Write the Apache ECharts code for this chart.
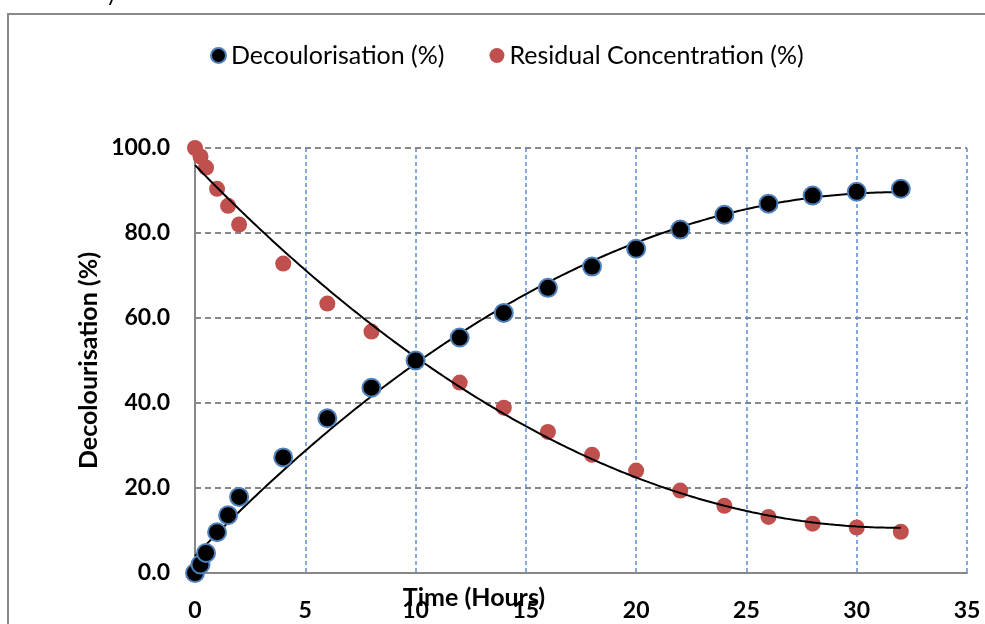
<!DOCTYPE html>
<html>
<head>
<meta charset="utf-8">
<script src="https://cdn.jsdelivr.net/npm/echarts@6/dist/echarts.min.js"></script>
<style>
  html, body { margin: 0; padding: 0; background: #fff; }
  #chart { width: 985px; height: 624px; }
</style>
</head>
<body>
<div id="chart"></div>
<script>
// Sampling times (hours)
const timeHours = [0, 0.25, 0.5, 1, 1.5, 2, 4, 6, 8, 10, 12, 14, 16, 18, 20, 22, 24, 26, 28, 30, 32];
// Decolourisation (%)
const decolourisation = [0, 2.0, 4.7, 9.6, 13.6, 17.9, 27.2, 36.4, 43.6, 50.0, 55.4, 61.2, 67.1, 72.1, 76.3, 80.8, 84.3, 86.9, 88.8, 89.7, 90.4];
// Residual concentration (%)
const residual = [100, 98.0, 95.4, 90.4, 86.4, 82.0, 72.8, 63.4, 56.8, 50.0, 44.8, 38.9, 33.2, 27.8, 24.1, 19.4, 15.8, 13.2, 11.6, 10.7, 9.7];
const xTicks = [0, 5, 10, 15, 20, 25, 30, 35];
const yTicks = [0, 20, 40, 60, 80, 100];

// 2nd order polynomial trendline (least squares), like the spreadsheet one
function polyFit2(xs, ys) {
  let s0 = 0, s1 = 0, s2 = 0, s3 = 0, s4 = 0, t0 = 0, t1 = 0, t2 = 0;
  for (let i = 0; i < xs.length; i++) {
    const x = xs[i], y = ys[i];
    s0 += 1; s1 += x; s2 += x * x; s3 += x * x * x; s4 += x * x * x * x;
    t0 += y; t1 += x * y; t2 += x * x * y;
  }
  // solve 3x3 normal equations
  const m = [[s0, s1, s2, t0], [s1, s2, s3, t1], [s2, s3, s4, t2]];
  for (let c = 0; c < 3; c++) {
    for (let r = c + 1; r < 3; r++) {
      const f = m[r][c] / m[c][c];
      for (let k = c; k < 4; k++) m[r][k] -= f * m[c][k];
    }
  }
  const coef = [0, 0, 0];
  for (let r = 2; r >= 0; r--) {
    let v = m[r][3];
    for (let k = r + 1; k < 3; k++) v -= m[r][k] * coef[k];
    coef[r] = v / m[r][r];
  }
  return x => coef[0] + coef[1] * x + coef[2] * x * x;
}

function trend(xs, ys) {
  const f = polyFit2(xs, ys);
  const out = [];
  const last = xs[xs.length - 1];
  for (let x = xs[0]; x <= last + 1e-9; x += 0.25) out.push([x, f(x)]);
  return out;
}

const pairs = (xs, ys) => xs.map((x, i) => [x, ys[i]]);

const chart = echarts.init(document.getElementById('chart'));
const fontFamily = 'Lato, "Open Sans", sans-serif';

chart.setOption({
  animation: false,
  textStyle: { fontFamily: fontFamily },
  graphic: [
    {
      type: 'rect',
      shape: { x: 8, y: 14, width: 1000, height: 700 },
      style: { fill: 'none', stroke: '#898989', lineWidth: 2 },
      silent: true
    },
    {
      type: 'text',
      left: 106,
      top: -17,
      style: { text: 'y', font: '22px Lato, sans-serif', fill: '#000' }
    }
  ],
  legend: {
    top: 38,
    left: 205,
    itemGap: 45,
    itemWidth: 15,
    itemHeight: 15,
    data: ['Decoulorisation (%)', 'Residual Concentration (%)'],
    textStyle: { fontSize: 25, color: '#000', fontFamily: fontFamily }
  },
  grid: { left: 195, right: 18, top: 148, bottom: 51, containLabel: false, outerBoundsMode: 'none' },
  xAxis: {
    type: 'value',
    min: xTicks[0],
    max: xTicks[xTicks.length - 1],
    interval: 5,
    name: 'Time (Hours)',
    nameLocation: 'middle',
    nameGap: 12,
    nameMoveOverlap: false,
    nameTextStyle: {
      fontSize: 25, fontWeight: 'bold', color: '#000', fontFamily: fontFamily,
      padding: [0, 214, 0, 0]
    },
    axisLine: { lineStyle: { color: '#878787', width: 2 } },
    axisTick: { show: false },
    axisLabel: { fontSize: 23, fontWeight: 'bold', color: '#000', margin: 26, fontFamily: fontFamily },
    splitLine: { show: true, lineStyle: { color: '#5b8ed0', type: [4, 3], width: 1.5 } }
  },
  yAxis: {
    type: 'value',
    min: yTicks[0],
    max: yTicks[yTicks.length - 1],
    interval: 20,
    name: 'Decolourisation (%)',
    nameLocation: 'middle',
    nameGap: 94,
    nameMoveOverlap: false,
    nameTextStyle: { fontSize: 25, fontWeight: 'bold', color: '#000', fontFamily: fontFamily },
    axisLine: { show: true, lineStyle: { color: '#878787', width: 2 } },
    axisTick: { show: false },
    axisLabel: {
      fontSize: 23, fontWeight: 'bold', color: '#000', margin: 25, fontFamily: fontFamily,
      formatter: v => v.toFixed(1)
    },
    splitLine: { show: true, lineStyle: { color: '#878787', type: [6, 4], width: 2 } }
  },
  series: [
    {
      name: 'Decoulorisation (%)',
      type: 'scatter',
      data: pairs(timeHours, decolourisation),
      symbolSize: 18,
      z: 4,
      itemStyle: { color: '#000', borderColor: '#4f81bd', borderWidth: 2, opacity: 1 }
    },
    {
      name: 'Residual Concentration (%)',
      type: 'scatter',
      data: pairs(timeHours, residual),
      symbolSize: 16,
      z: 2,
      itemStyle: { color: '#c0504d', opacity: 1 }
    },
    {
      name: 'trend decolourisation',
      type: 'line',
      data: trend(timeHours, decolourisation),
      showSymbol: false,
      smooth: true,
      z: 3,
      lineStyle: { color: '#000', width: 2 }
    },
    {
      name: 'trend residual',
      type: 'line',
      data: trend(timeHours, residual),
      showSymbol: false,
      smooth: true,
      z: 3,
      lineStyle: { color: '#000', width: 2 }
    }
  ]
});
</script>
</body>
</html>
